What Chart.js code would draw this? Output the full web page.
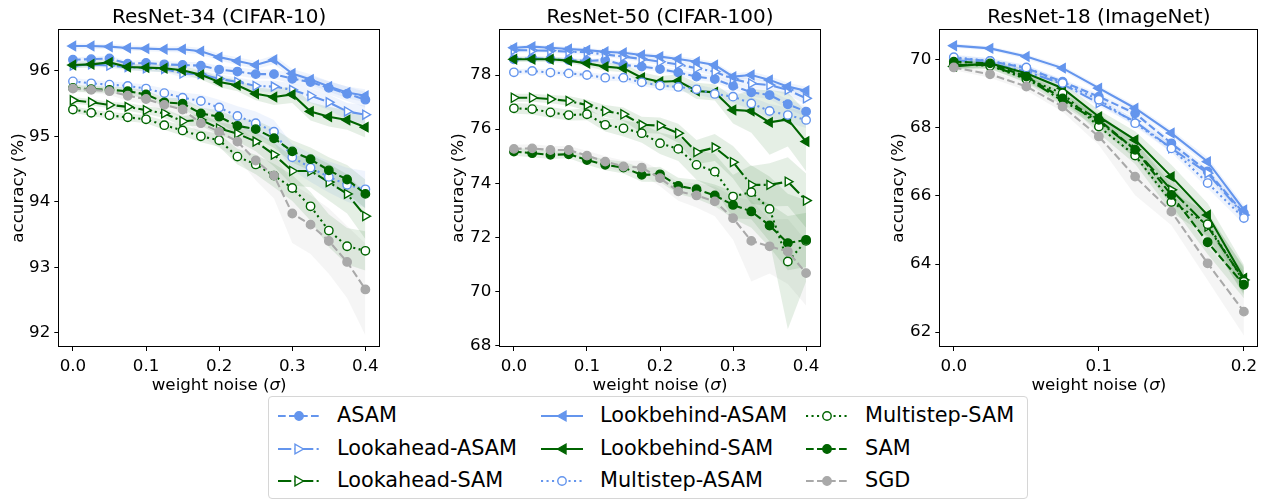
<!DOCTYPE html>
<html>
<head>
<meta charset="utf-8">
<script src="https://cdn.jsdelivr.net/npm/chart.js@4.4.0/dist/chart.umd.min.js"></script>
<style>
  body { margin: 0; background: #fff; width: 1265px; height: 500px; overflow: hidden; position: relative; font-family: 'DejaVu Sans', sans-serif; }
  canvas { position: absolute; top: 0; }
  #legend { position: absolute; left: 268px; top: 396px; width: 758px; height: 101px; border: 1px solid #d6d6d6; border-radius: 4px; background: #fff; }
  .item { position: absolute; height: 30px; display: flex; align-items: center; font-size: 20.8px; color: #000; white-space: nowrap; }
  .item svg { position: absolute; left: 0; top: 5px; }
  .item span { position: absolute; top: 2px; }
</style>
</head>
<body>
<canvas id="c1" width="400" height="395" style="left:0px"></canvas>
<canvas id="c2" width="400" height="395" style="left:440px"></canvas>
<canvas id="c3" width="385" height="395" style="left:880px"></canvas>
<div id="legend"></div>
<script>
// x positions (weight noise sigma) and tick labels
const xs40 = [0, 0.025, 0.05, 0.075, 0.1, 0.125, 0.15, 0.175, 0.2, 0.225, 0.25, 0.275, 0.3, 0.325, 0.35, 0.375, 0.4];
const xs20 = [0, 0.025, 0.05, 0.075, 0.1, 0.125, 0.15, 0.175, 0.2];
const ticksX40 = [0, 0.1, 0.2, 0.3, 0.4];
const ticksX20 = [0, 0.1, 0.2];
const ticksY1 = [92, 93, 94, 95, 96];
const ticksY2 = [68, 70, 72, 74, 76, 78];
const ticksY3 = [62, 64, 66, 68, 70];

const seriesNames = ['ASAM', 'Lookahead-ASAM', 'Lookahead-SAM', 'Lookbehind-ASAM', 'Lookbehind-SAM',
                     'Multistep-ASAM', 'Multistep-SAM', 'SAM', 'SGD'];

// ResNet-34 (CIFAR-10)
const c10_ASAM           = [96.17, 96.18, 96.19, 96.11, 96.12, 96.10, 96.09, 96.08, 96.02, 95.99, 95.95, 95.95, 95.88, 95.83, 95.74, 95.65, 95.56];
const c10_LookaheadASAM  = [96.08, 96.10, 96.08, 96.06, 96.04, 96.03, 95.96, 95.95, 95.88, 95.83, 95.77, 95.76, 95.71, 95.62, 95.52, 95.38, 95.33];
const c10_LookaheadSAM   = [95.55, 95.52, 95.48, 95.45, 95.40, 95.35, 95.23, 95.25, 95.12, 95.04, 94.92, 94.72, 94.47, 94.47, 94.30, 94.12, 93.78];
const c10_LookbehindASAM = [96.38, 96.38, 96.37, 96.35, 96.34, 96.33, 96.33, 96.30, 96.21, 96.15, 96.09, 96.17, 95.96, 95.87, 95.76, 95.67, 95.62];
const c10_LookbehindSAM  = [96.09, 96.10, 96.13, 96.06, 96.05, 96.04, 96.01, 95.94, 95.83, 95.78, 95.65, 95.60, 95.64, 95.38, 95.30, 95.25, 95.14];
const c10_MultistepASAM  = [95.84, 95.81, 95.79, 95.77, 95.73, 95.66, 95.59, 95.54, 95.44, 95.31, 95.20, 95.07, 94.68, 94.52, 94.38, 94.26, 94.19];
const c10_MultistepSAM   = [95.41, 95.36, 95.32, 95.29, 95.26, 95.17, 95.09, 95.00, 94.94, 94.69, 94.57, 94.40, 94.21, 93.93, 93.56, 93.32, 93.25];
const c10_SAM            = [95.74, 95.72, 95.71, 95.69, 95.64, 95.52, 95.50, 95.35, 95.30, 95.16, 95.11, 94.97, 94.77, 94.65, 94.48, 94.34, 94.12];
const c10_SGD            = [95.73, 95.71, 95.69, 95.62, 95.57, 95.48, 95.41, 95.20, 95.07, 94.92, 94.63, 94.40, 93.82, 93.65, 93.40, 93.08, 92.66];
// std bands
const c10_ASAM_sd           = [0.04, 0.04, 0.04, 0.04, 0.05, 0.05, 0.05, 0.05, 0.06, 0.06, 0.07, 0.07, 0.08, 0.09, 0.10, 0.11, 0.12];
const c10_LookaheadASAM_sd  = [0.04, 0.04, 0.04, 0.05, 0.05, 0.05, 0.06, 0.06, 0.07, 0.07, 0.08, 0.09, 0.10, 0.11, 0.12, 0.13, 0.14];
const c10_LookaheadSAM_sd   = [0.05, 0.05, 0.05, 0.06, 0.06, 0.07, 0.08, 0.09, 0.10, 0.12, 0.15, 0.18, 0.22, 0.25, 0.28, 0.30, 0.35];
const c10_LookbehindASAM_sd = [0.04, 0.04, 0.04, 0.04, 0.04, 0.04, 0.05, 0.05, 0.05, 0.06, 0.06, 0.07, 0.07, 0.08, 0.08, 0.09, 0.10];
const c10_LookbehindSAM_sd  = [0.05, 0.05, 0.05, 0.05, 0.05, 0.06, 0.06, 0.07, 0.08, 0.09, 0.10, 0.12, 0.13, 0.14, 0.15, 0.15, 0.16];
const c10_MultistepASAM_sd  = [0.05, 0.05, 0.05, 0.05, 0.06, 0.07, 0.08, 0.10, 0.12, 0.15, 0.18, 0.18, 0.20, 0.22, 0.24, 0.26, 0.28];
const c10_MultistepSAM_sd   = [0.05, 0.05, 0.05, 0.06, 0.06, 0.07, 0.08, 0.09, 0.10, 0.12, 0.15, 0.18, 0.20, 0.22, 0.25, 0.28, 0.30];
const c10_SAM_sd            = [0.05, 0.05, 0.05, 0.06, 0.06, 0.07, 0.08, 0.09, 0.10, 0.12, 0.14, 0.15, 0.17, 0.18, 0.20, 0.22, 0.22];
const c10_SGD_sd            = [0.05, 0.05, 0.06, 0.08, 0.08, 0.10, 0.12, 0.20, 0.25, 0.25, 0.30, 0.35, 0.45, 0.45, 0.50, 0.55, 0.70];

// ResNet-50 (CIFAR-100)
const c100_ASAM           = [78.58, 78.62, 78.59, 78.55, 78.52, 78.55, 78.37, 78.31, 78.22, 78.09, 77.94, 77.85, 77.60, 77.36, 77.26, 76.92, 76.65];
const c100_LookaheadASAM  = [78.92, 78.91, 78.90, 78.86, 78.84, 78.76, 78.68, 78.59, 78.49, 78.39, 78.25, 78.12, 77.85, 77.69, 77.63, 77.45, 77.14];
const c100_LookaheadSAM   = [77.16, 77.16, 77.11, 77.04, 76.89, 76.67, 76.55, 76.16, 76.13, 75.85, 75.15, 75.32, 74.78, 73.94, 73.94, 74.06, 73.36];
const c100_LookbehindASAM = [79.01, 79.05, 79.01, 78.96, 78.92, 78.86, 78.82, 78.74, 78.68, 78.59, 78.49, 78.37, 77.94, 78.00, 77.82, 77.57, 77.42];
const c100_LookbehindSAM  = [78.58, 78.58, 78.58, 78.53, 78.43, 78.31, 78.25, 77.90, 77.75, 77.78, 77.41, 77.36, 76.71, 76.67, 76.25, 76.36, 75.54];
const c100_MultistepASAM  = [78.10, 78.15, 78.09, 78.06, 78.00, 77.90, 77.90, 77.73, 77.61, 77.56, 77.47, 77.30, 77.20, 76.95, 76.67, 76.52, 76.34];
const c100_MultistepSAM   = [76.77, 76.74, 76.62, 76.52, 76.55, 76.16, 76.03, 75.85, 75.48, 75.27, 74.68, 74.43, 73.51, 73.67, 73.05, 71.11, 71.87];
const c100_SAM            = [75.17, 75.11, 75.05, 75.07, 74.86, 74.68, 74.58, 74.31, 74.33, 73.90, 73.78, 73.55, 73.20, 72.96, 72.44, 71.79, 71.91];
const c100_SGD            = [75.27, 75.29, 75.23, 75.23, 75.02, 74.80, 74.62, 74.58, 74.19, 73.70, 73.55, 73.33, 72.71, 71.87, 71.67, 71.48, 70.68];
const c100_ASAM_sd           = [0.08, 0.08, 0.08, 0.08, 0.08, 0.09, 0.09, 0.10, 0.10, 0.11, 0.12, 0.13, 0.14, 0.15, 0.16, 0.18, 0.20];
const c100_LookaheadASAM_sd  = [0.08, 0.08, 0.08, 0.08, 0.09, 0.09, 0.10, 0.10, 0.11, 0.12, 0.13, 0.14, 0.15, 0.17, 0.18, 0.20, 0.22];
const c100_LookaheadSAM_sd   = [0.15, 0.15, 0.15, 0.18, 0.20, 0.22, 0.25, 0.30, 0.30, 0.35, 0.45, 0.50, 0.60, 0.70, 0.80, 0.90, 1.00];
const c100_LookbehindASAM_sd = [0.08, 0.08, 0.08, 0.08, 0.08, 0.08, 0.09, 0.09, 0.10, 0.10, 0.11, 0.11, 0.12, 0.13, 0.13, 0.14, 0.15];
const c100_LookbehindSAM_sd  = [0.10, 0.10, 0.10, 0.10, 0.12, 0.15, 0.15, 0.20, 0.20, 0.25, 0.30, 0.30, 0.50, 0.80, 1.20, 1.00, 1.10];
const c100_MultistepASAM_sd  = [0.10, 0.10, 0.10, 0.10, 0.11, 0.12, 0.13, 0.14, 0.15, 0.16, 0.18, 0.20, 0.22, 0.24, 0.26, 0.28, 0.30];
const c100_MultistepSAM_sd   = [0.20, 0.20, 0.20, 0.20, 0.22, 0.25, 0.30, 0.35, 0.40, 0.45, 0.55, 0.65, 0.80, 1.00, 1.20, 2.50, 1.50];
const c100_SAM_sd            = [0.15, 0.15, 0.15, 0.15, 0.18, 0.20, 0.22, 0.25, 0.28, 0.30, 0.35, 0.40, 0.50, 0.60, 0.80, 1.00, 1.00];
const c100_SGD_sd            = [0.15, 0.15, 0.15, 0.15, 0.18, 0.20, 0.22, 0.25, 0.30, 0.35, 0.45, 0.55, 0.80, 1.50, 1.00, 1.20, 1.20];

// ResNet-18 (ImageNet)
const in_ASAM           = [70.05, 69.97, 69.76, 69.36, 68.92, 68.43, 67.55, 66.72, 65.49];
const in_LookaheadASAM  = [70.00, 69.90, 69.66, 69.29, 68.73, 68.19, 67.40, 66.67, 65.44];
const in_LookaheadSAM   = [69.85, 69.85, 69.46, 68.80, 68.19, 67.36, 66.18, 65.10, 63.53];
const in_LookbehindASAM = [70.42, 70.34, 70.10, 69.76, 69.17, 68.58, 67.85, 67.01, 65.59];
const in_LookbehindSAM  = [69.81, 69.90, 69.61, 69.17, 68.33, 67.65, 66.57, 65.44, 63.58];
const in_MultistepASAM  = [70.08, 69.97, 69.78, 69.32, 68.83, 68.14, 67.40, 66.38, 65.35];
const in_MultistepSAM   = [69.87, 69.83, 69.44, 69.02, 68.04, 67.19, 65.82, 65.17, 63.48];
const in_SAM            = [69.95, 69.90, 69.51, 68.87, 68.24, 67.36, 66.03, 64.64, 63.39];
const in_SGD            = [69.78, 69.58, 69.22, 68.63, 67.75, 66.57, 65.54, 64.02, 62.60];
const in_ASAM_sd           = [0.08, 0.08, 0.08, 0.08, 0.09, 0.10, 0.10, 0.12, 0.15];
const in_LookaheadASAM_sd  = [0.08, 0.08, 0.08, 0.08, 0.09, 0.10, 0.10, 0.12, 0.15];
const in_LookaheadSAM_sd   = [0.10, 0.10, 0.12, 0.15, 0.20, 0.25, 0.30, 0.35, 0.40];
const in_LookbehindASAM_sd = [0.06, 0.06, 0.07, 0.08, 0.08, 0.09, 0.10, 0.12, 0.14];
const in_LookbehindSAM_sd  = [0.10, 0.10, 0.12, 0.15, 0.20, 0.25, 0.35, 0.35, 0.40];
const in_MultistepASAM_sd  = [0.08, 0.08, 0.08, 0.09, 0.10, 0.10, 0.12, 0.15, 0.18];
const in_MultistepSAM_sd   = [0.10, 0.10, 0.12, 0.15, 0.20, 0.25, 0.30, 0.35, 0.40];
const in_SAM_sd            = [0.10, 0.10, 0.12, 0.15, 0.20, 0.25, 0.30, 0.35, 0.40];
const in_SGD_sd            = [0.08, 0.10, 0.12, 0.15, 0.25, 0.55, 0.40, 0.50, 0.70];

// line styles (matplotlib-like, lw ~2px)
const BLUE = '#6495ED', GREEN = '#006400', GREY = '#A9A9A9';
const DASHED = [7.7, 3.3], DASHDOT = [13.3, 3.3, 2.1, 3.3], DOTTED = [2.1, 3.4], SOLID = [];
const styles = [
    { color: BLUE,  band: 'rgba(100,149,237,0.10)', dash: DASHED,  marker: 'circle', open: false },
    { color: BLUE,  band: 'rgba(100,149,237,0.10)', dash: DASHDOT, marker: 'right',  open: true },
    { color: GREEN, band: 'rgba(0,100,0,0.10)',     dash: DASHDOT, marker: 'right',  open: true },
    { color: BLUE,  band: 'rgba(100,149,237,0.10)', dash: SOLID,   marker: 'left',   open: false },
    { color: GREEN, band: 'rgba(0,100,0,0.10)',     dash: SOLID,   marker: 'left',   open: false },
    { color: BLUE,  band: 'rgba(100,149,237,0.10)', dash: DOTTED,  marker: 'circle', open: true },
    { color: GREEN, band: 'rgba(0,100,0,0.10)',     dash: DOTTED,  marker: 'circle', open: true },
    { color: GREEN, band: 'rgba(0,100,0,0.10)',     dash: DASHED,  marker: 'circle', open: false },
    { color: GREY,  band: 'rgba(169,169,169,0.12)', dash: DASHED,  marker: 'circle', open: false }
];

const FONT = 'DejaVu Sans';

// frame, title, x tick labels and x label drawn like a matplotlib axes
const boxPlugin = {
    id: 'box',
    afterDraw(chart, args, opts) {
        const { ctx, chartArea: a } = chart;
        ctx.save();
        ctx.strokeStyle = '#000';
        ctx.lineWidth = 1;
        const l = Math.round(a.left) + 0.5, t = Math.round(a.top) + 0.5;
        const r = Math.round(a.right) - 0.5, b = Math.round(a.bottom) - 0.5;
        ctx.strokeRect(l, t, r - l, b - t);
        ctx.fillStyle = '#000';
        ctx.font = '20px "' + FONT + '"';
        ctx.textAlign = 'center';
        ctx.textBaseline = 'alphabetic';
        ctx.fillText(opts.text, (a.left + a.right) / 2, a.top - 6);

        // x tick labels
        const xs = chart.scales.x;
        ctx.font = '16.7px "' + FONT + '"';
        xs.ticks.forEach(tk => {
            ctx.fillText(tk.value.toFixed(1), xs.getPixelForValue(tk.value), a.bottom + 23.5);
        });

        // x label with italic sigma
        const upright = '16.7px "' + FONT + '"', italic = 'italic 16.7px "' + FONT + '"';
        const parts = [['weight noise (', upright], ['σ', italic], [')', upright]];
        let w = 0;
        parts.forEach(p => { ctx.font = p[1]; w += ctx.measureText(p[0]).width; });
        let x = (a.left + a.right) / 2 - w / 2;
        ctx.textAlign = 'left';
        parts.forEach(p => {
            ctx.font = p[1];
            ctx.fillText(p[0], x, a.bottom + 42.5);
            x += ctx.measureText(p[0]).width;
        });
        ctx.restore();
    }
};

function makeChart(id, xs, means, sds, cfg) {
    const datasets = [];
    means.forEach((m, k) => {
        const st = styles[k];
        datasets.push({
            data: xs.map((x, i) => ({ x, y: m[i] + sds[k][i] })),
            borderWidth: 0, borderColor: 'transparent', pointRadius: 0, fill: false, order: 1000 + k
        });
        datasets.push({
            data: xs.map((x, i) => ({ x, y: m[i] - sds[k][i] })),
            borderWidth: 0, borderColor: 'transparent', pointRadius: 0,
            fill: '-1', backgroundColor: st.band, order: 1000 + k
        });
    });
    means.forEach((m, k) => {
        const st = styles[k];
        const tri = st.marker !== 'circle';
        datasets.push({
            label: seriesNames[k],
            data: xs.map((x, i) => ({ x, y: m[i] })),
            borderColor: st.color,
            borderWidth: 2.1,
            borderDash: st.dash,
            fill: false,
            pointStyle: tri ? 'triangle' : 'circle',
            pointRotation: st.marker === 'right' ? 90 : (st.marker === 'left' ? -90 : 0),
            pointRadius: tri ? 5.2 : 4.2,
            pointBorderWidth: 1.4,
            pointBorderColor: st.color,
            pointBackgroundColor: st.open ? '#fff' : st.color,
            order: 100 - k
        });
    });

    return new Chart(document.getElementById(id), {
        type: 'line',
        data: { datasets },
        plugins: [boxPlugin],
        options: {
            responsive: false,
            animation: false,
            layout: { padding: { top: 29, right: cfg.padRight, left: 0, bottom: 0 } },
            plugins: {
                legend: { display: false },
                tooltip: { enabled: false },
                box: { text: cfg.title }
            },
            scales: {
                x: {
                    type: 'linear',
                    min: cfg.xMin, max: cfg.xMax,
                    afterBuildTicks: s => { s.ticks = cfg.xTicks.map(v => ({ value: v })); },
                    afterFit: s => { s.height = 48; },
                    ticks: { display: false },
                    grid: { display: true, drawOnChartArea: false, drawTicks: true, tickLength: 4, color: '#000' },
                    border: { display: false }
                },
                y: {
                    min: cfg.yMin, max: cfg.yMax,
                    afterBuildTicks: s => { s.ticks = cfg.yTicks.map(v => ({ value: v })); },
                    afterFit: s => { s.width = cfg.yWidth; },
                    ticks: {
                        color: '#000', padding: 4,
                        font: { family: FONT, size: 16.7 },
                        callback: v => String(v)
                    },
                    grid: { display: true, drawOnChartArea: false, drawTicks: true, tickLength: 4, color: '#000' },
                    border: { display: false },
                    title: {
                        display: true, text: 'accuracy (%)', color: '#000',
                        font: { family: FONT, size: 16.7 }, padding: { top: 9, bottom: 0 }
                    }
                }
            }
        }
    });
}

makeChart('c1', xs40,
    [c10_ASAM, c10_LookaheadASAM, c10_LookaheadSAM, c10_LookbehindASAM, c10_LookbehindSAM,
     c10_MultistepASAM, c10_MultistepSAM, c10_SAM, c10_SGD],
    [c10_ASAM_sd, c10_LookaheadASAM_sd, c10_LookaheadSAM_sd, c10_LookbehindASAM_sd, c10_LookbehindSAM_sd,
     c10_MultistepASAM_sd, c10_MultistepSAM_sd, c10_SAM_sd, c10_SGD_sd],
    { title: 'ResNet-34 (CIFAR-10)', xMin: -0.02, xMax: 0.42, yMin: 91.78, yMax: 96.64,
      xTicks: ticksX40, yTicks: ticksY1, yWidth: 58.3, padRight: 20 });

makeChart('c2', xs40,
    [c100_ASAM, c100_LookaheadASAM, c100_LookaheadSAM, c100_LookbehindASAM, c100_LookbehindSAM,
     c100_MultistepASAM, c100_MultistepSAM, c100_SAM, c100_SGD],
    [c100_ASAM_sd, c100_LookaheadASAM_sd, c100_LookaheadSAM_sd, c100_LookbehindASAM_sd, c100_LookbehindSAM_sd,
     c100_MultistepASAM_sd, c100_MultistepSAM_sd, c100_SAM_sd, c100_SGD_sd],
    { title: 'ResNet-50 (CIFAR-100)', xMin: -0.02, xMax: 0.42, yMin: 67.95, yMax: 79.7,
      xTicks: ticksX40, yTicks: ticksY2, yWidth: 59.3, padRight: 19.3 });

makeChart('c3', xs20,
    [in_ASAM, in_LookaheadASAM, in_LookaheadSAM, in_LookbehindASAM, in_LookbehindSAM,
     in_MultistepASAM, in_MultistepSAM, in_SAM, in_SGD],
    [in_ASAM_sd, in_LookaheadASAM_sd, in_LookaheadSAM_sd, in_LookbehindASAM_sd, in_LookbehindSAM_sd,
     in_MultistepASAM_sd, in_MultistepSAM_sd, in_SAM_sd, in_SGD_sd],
    { title: 'ResNet-18 (ImageNet)', xMin: -0.01, xMax: 0.21, yMin: 61.56, yMax: 70.91,
      xTicks: ticksX20, yTicks: ticksY3, yWidth: 59.3, padRight: 4 });

// legend (3 columns, column-major like matplotlib ncol=3)
const legend = document.getElementById('legend');
const colX = [9, 272, 537];
const rowY = [4, 37, 69];
seriesNames.forEach((name, i) => {
    const st = styles[i];
    const col = Math.floor(i / 3), row = i % 3;
    const item = document.createElement('div');
    item.className = 'item';
    item.style.left = colX[col] + 'px';
    item.style.top = rowY[row] + 'px';
    let mk;
    if (st.marker === 'circle') {
        mk = `<circle cx="21" cy="10" r="4.2" fill="${st.open ? '#fff' : st.color}" stroke="${st.color}" stroke-width="1.4"/>`;
    } else {
        const pts = st.marker === 'right' ? '25.5,10 17,5.2 17,14.8' : '16.5,10 25,5.2 25,14.8';
        mk = `<polygon points="${pts}" fill="${st.open ? '#fff' : st.color}" stroke="${st.color}" stroke-width="1.4"/>`;
    }
    const dash = st.dash.length ? `stroke-dasharray="${st.dash.join(' ')}"` : '';
    item.innerHTML = `<svg width="42" height="20"><line x1="0" y1="10" x2="42" y2="10" stroke="${st.color}" stroke-width="2.1" ${dash}/>${mk}</svg>` +
                     `<span style="left:59px">${name}</span>`;
    legend.appendChild(item);
});
</script>
</body>
</html>
